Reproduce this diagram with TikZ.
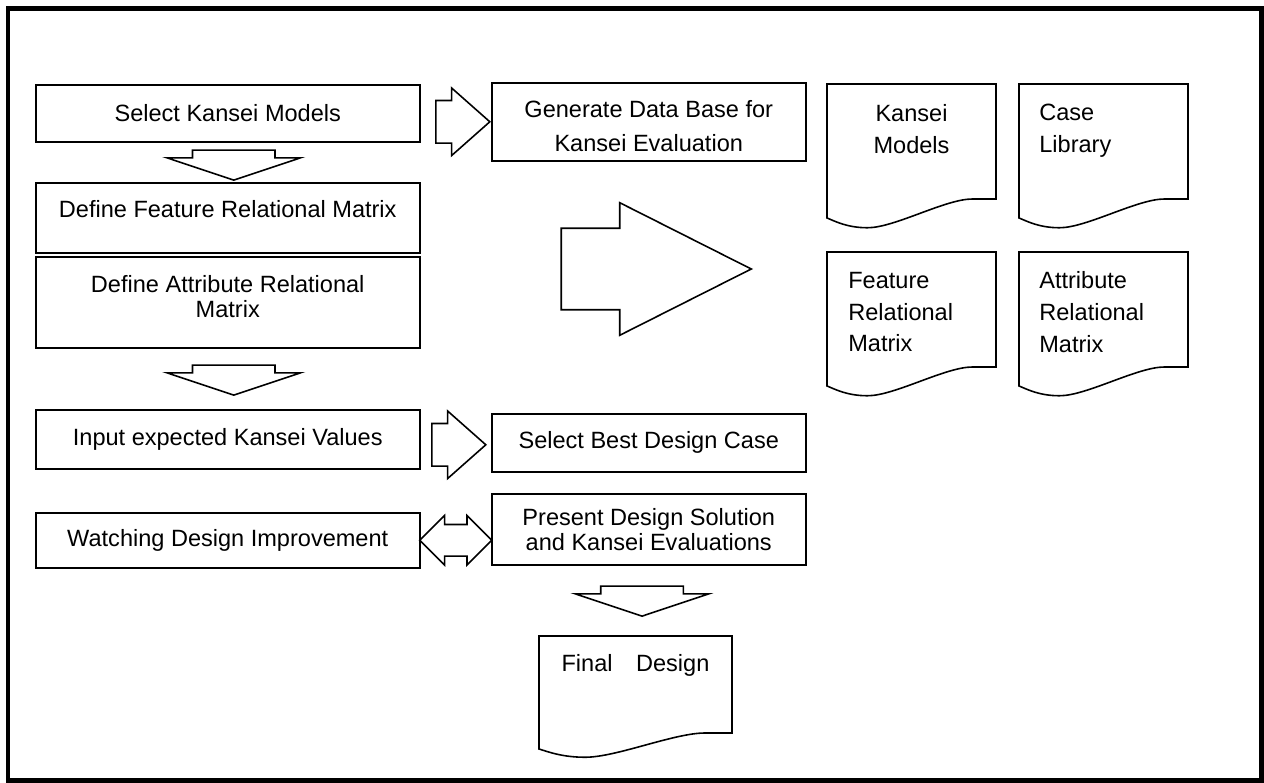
\documentclass[tikz,border=0pt]{standalone}
\usepackage{fontspec}
\setmainfont{Liberation Sans}
\usetikzlibrary{shapes.arrows, positioning, calc}

\tikzset{
  procbox/.style={draw, line width=0.9pt, minimum width=7.68cm, inner sep=0pt, align=center, font=\fontsize{13.4}{14.2}\selectfont},
  outbox/.style={procbox, minimum width=6.28cm},
  doctext/.style={inner sep=0pt, font=\fontsize{13.4}{18.2}\selectfont},
  docline/.style={line width=0.9pt, line join=miter},
  fatarrow/.style={draw, line width=0.9pt, single arrow, inner xsep=0pt, inner ysep=0.41cm, single arrow head extend=0.25cm, single arrow tip angle=83, minimum height=1.08cm},
  downarrow/.style={draw, line width=0.9pt, single arrow, inner xsep=0pt, inner ysep=0.81cm, single arrow head extend=0.51cm, single arrow tip angle=143, minimum height=0.6cm, rotate=-90},
  bigarrow/.style={draw, line width=0.9pt, single arrow, inner xsep=0pt, inner ysep=0.8cm, single arrow head extend=0.51cm, single arrow tip angle=53.5, minimum height=3.8cm},
  botharrow/.style={draw, line width=0.9pt, double arrow, inner xsep=0pt, inner ysep=0.3cm, double arrow head extend=0.18cm, double arrow tip angle=90, minimum height=1.44cm}
}

% document symbol: left, top, width, height at the right side
\newcommand{\docshape}[4]{%
  \draw[docline] (#1,#2) -- ++(#3,0) -- ++(0,#4) -- ++({-0.14*#3},0)
    .. controls +({-0.16*#3},0) and +({0.16*#3},0) .. ({#1+0.24*#3},{#2+1.25*#4})
    .. controls +({-0.12*#3},0) and +({0.05*#3},{0.03*#4}) .. ({#1},{#2+1.165*#4}) -- cycle;}

\begin{document}
\begin{tikzpicture}[x=0.02cm, y=-0.02cm]
  \useasboundingbox (0,0) rectangle (1264,783);
  \draw[line width=0.1cm] (8,8.5) rectangle (1261,780.5);

  \node[procbox, minimum height=1.14cm, anchor=north west] (selmod) at (35,84) {Select Kansei Models};
  \node[procbox, minimum height=1.4cm, text depth=0.36cm, anchor=north west] (deffeat) at (35,182) {Define Feature Relational Matrix};
  \node[procbox, minimum height=1.82cm, text depth=0.24cm, anchor=north west] (defattr) at (35,256) {Define Attribute Relational\\Matrix};
  \node[procbox, minimum height=1.18cm, anchor=north west] (input) at (35,409) {Input expected Kansei Values};
  \node[procbox, minimum height=1.1cm, anchor=north west] (watch) at (35,512) {Watching Design Improvement};

  \node[outbox, minimum height=1.56cm, font=\fontsize{13.4}{19.6}\selectfont, text height=1.2cm, anchor=north west] (gendb) at (491,82) {Generate Data Base for\\Kansei Evaluation};
  \node[outbox, minimum height=1.16cm, anchor=north west] (selbest) at (491,413) {Select Best Design Case};
  \node[outbox, minimum height=1.42cm, anchor=north west] (present) at (491,493) {Present Design Solution\\and Kansei Evaluations};

  \docshape{827}{84}{169}{115}
  \docshape{1019}{84}{169}{115}
  \docshape{827}{252}{169}{115}
  \docshape{1019}{252}{169}{115}
  \docshape{539}{636}{193}{97}

  \node[doctext, align=center, anchor=north] (kmodels) at (911.5,104) {Kansei\\Models};
  \node[doctext, align=left, anchor=north west] (caselib) at (1039,104) {Case\\Library};
  \node[doctext, align=left, anchor=north west] (featmat) at (848,271.5) {Feature\\Relational\\Matrix};
  \node[doctext, align=left, anchor=north west] (attrmat) at (1039,271.5) {Attribute\\Relational\\Matrix};
  \node[doctext, anchor=north] (final) at (635.5,654.5) {Final\quad Design};

  \node[fatarrow, anchor=tip] (toGen) at (gendb.west) {};
  \node[fatarrow, anchor=tip] (toBest) at ($(selbest.west)+(-4,2)$) {};
  \node[downarrow, anchor=tip] (toFeat) at ($(deffeat.north)+(6,-1)$) {};
  \node[downarrow, anchor=tip] (toInput) at ($(input.north)+(6,-13)$) {};
  \node[downarrow, anchor=tip] (toFinal) at (642,617) {};
  \node[bigarrow, anchor=tip] (toDocs) at (753,269) {};
  \node[botharrow] (watchPresent) at ($(watch.east)!0.5!(watch.east -| present.west)$) {};
\end{tikzpicture}
\end{document}
